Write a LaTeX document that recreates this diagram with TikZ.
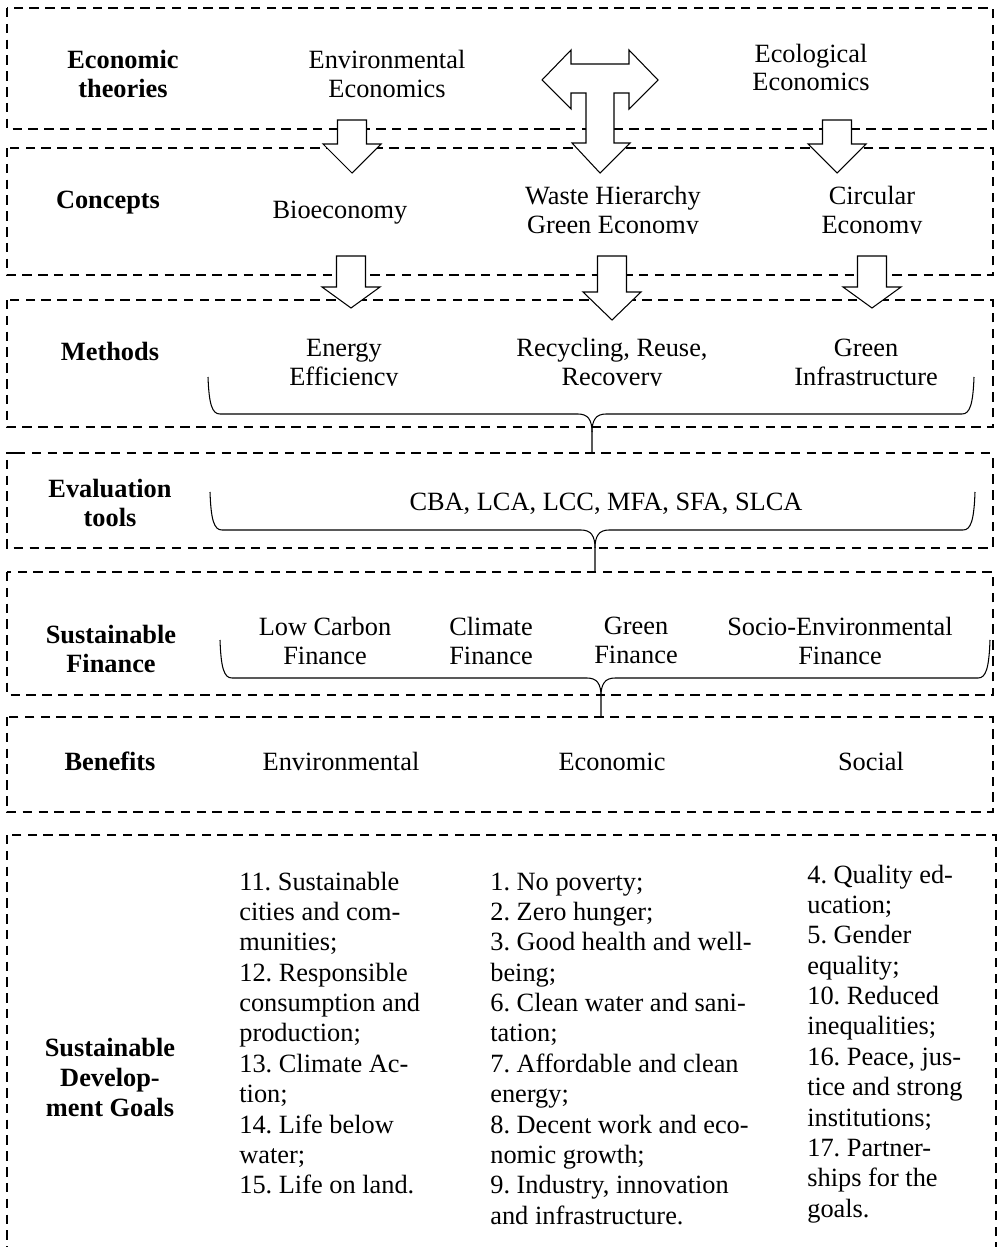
\documentclass[tikz,border=0pt]{standalone}
\usepackage{fontspec}
\setmainfont{Liberation Serif}
\frenchspacing
\newcommand\blockdown[4]{% centre x, stem top, head base, tip
  \draw[blockarrow] (#1-14.5,#2) -- (#1+14.5,#2) -- (#1+14.5,#3) -- (#1+29,#3)
    -- (#1,#4) -- (#1-29,#3) -- (#1-14.5,#3) -- cycle;}
\newcommand\bracket[6]{% left x, right x, middle x, end top, line y, tip y
  \draw[bracketline] (#1,#4) .. controls (#1+1,#5-10) and (#1+4,#5) .. (#1+12,#5)
    -- (#3-14,#5) .. controls (#3-4,#5) and (#3,#5+6) .. (#3,#5+18) -- (#3,#6);
  \draw[bracketline] (#2,#4) .. controls (#2-1,#5-10) and (#2-4,#5) .. (#2-12,#5)
    -- (#3+14,#5) .. controls (#3+4,#5) and (#3,#5+6) .. (#3,#5+18);}
\newcommand\twolines[2]{\begin{tabular}[b]{@{}c@{}}#1\\#2\end{tabular}}
\begin{document}
\begin{tikzpicture}[x=0.02cm,y=-0.02cm,
  panel/.style={draw=black, line width=1.1pt, dash pattern=on 5.4pt off 3.6pt},
  blockarrow/.style={draw=black, fill=white, line width=0.6pt, line join=miter},
  bracketline/.style={draw=black, line width=0.6pt},
  txt/.style={inner sep=0pt, anchor=base, font=\fontsize{15}{16.5}\selectfont},
  head/.style={txt, font=\fontsize{15}{16.5}\selectfont\bfseries},
  goals/.style={inner sep=0pt, anchor=base west, font=\fontsize{15}{17.3}\selectfont}]
\clip (0,0) rectangle (998,1247);
\fill[white] (0,0) rectangle (998,1247);

% dashed panels, one per level
\draw[panel] (7,8) rectangle (993,129);
\draw[panel] (7,148) rectangle (993,275);
\draw[panel] (7,300) rectangle (993,427);
\draw[panel] (16,453) -- (7,453) -- (7,548) -- (993,548) -- (993,453);
\draw[panel, line width=0.7pt] (16,453) -- (993,453);
\draw[panel] (7,572) rectangle (993,695);
\draw[panel] (7,717) rectangle (993,812);
\draw[panel] (7,835) rectangle (996,1300);

% two-way arrow between the theories, joined to a downward arrow
\draw[blockarrow] (542,80) -- (571,50) -- (571,64) -- (629,64) -- (629,50) -- (658,80)
  -- (629,109) -- (629,93) -- (614,93) -- (614,143) -- (630,143) -- (600,173)
  -- (572,143) -- (586,143) -- (586,93) -- (571,93) -- (571,109) -- cycle;

% downward block arrows
\blockdown{352}{120}{144}{173}
\blockdown{837}{120}{144}{173}
\blockdown{351}{256}{287}{308}
\blockdown{612}{256}{292}{320}
\blockdown{872}{256}{287}{308}

% gathering brackets
\bracket{208}{974}{592}{377}{414}{453}
\bracket{210}{975}{595}{492}{530}{572}
\bracket{220}{990}{601}{640}{678}{717}

% level headings
\node[head] (theories) at (123,97) {\twolines{Economic}{theories}};
\node[head] (concepts) at (108,208) {Concepts};
\node[head] (methods) at (110,360) {Methods};
\node[head] (tools) at (110,526) {\twolines{Evaluation}{tools}};
\node[head] (finance) at (111,672) {\twolines{Sustainable}{Finance}};
\node[head] (benefits) at (110,770) {Benefits};
\node[inner sep=0pt, anchor=base, font=\fontsize{15}{17.3}\selectfont\bfseries] (sdg) at (110,1056)
  {\begin{tabular}[t]{@{}c@{}}Sustainable\\Develop-\\ment Goals\end{tabular}};

% theories
\node[txt] (envecon) at (387,97) {\twolines{Environmental}{Economics}};
\node[txt] (ecolecon) at (811,91) {\twolines{Ecological}{Economics}};

% concepts
\node[txt] (bioecon) at (340,218) {Bioeconomy};
\begin{scope}
  \clip (470,150) rectangle (990,233.5);
  \node[txt] (wastegreen) at (613,233) {\twolines{Waste Hierarchy}{Green Economy}};
  \node[txt] (circular) at (872,233) {\twolines{Circular}{Economy}};
\end{scope}

% methods
\begin{scope}
  \clip (250,300) rectangle (740,385.5);
  \node[txt] (energy) at (344,385) {\twolines{Energy}{Efficiency}};
  \node[txt] (recycling) at (612,385) {\twolines{Recycling, Reuse,}{Recovery}};
\end{scope}
\node[txt] (greeninf) at (866,385) {\twolines{Green}{Infrastructure}};

% evaluation tools
\node[txt] (evaltools) at (606,510) {CBA, LCA, LCC, MFA, SFA, SLCA};

% finance
\node[txt] (lowcarbon) at (325,664) {\twolines{Low Carbon}{Finance}};
\node[txt] (climate) at (491,664) {\twolines{Climate}{Finance}};
\node[txt] (greenfin) at (636,663) {\twolines{Green}{Finance}};
\node[txt] (socioenv) at (840,664) {\twolines{Socio-Environmental}{Finance}};

% benefits
\node[txt] (benenv) at (341,770) {Environmental};
\node[txt] (beneco) at (612,770) {Economic};
\node[txt] (bensoc) at (871,770) {Social};

% goals grouped by benefit
\node[goals] (goalsenv) at (239,890) {\begin{tabular}[t]{@{}l@{}}
11. Sustainable\\cities and com-\\munities;\\12. Responsible\\consumption and\\production;\\
13. Climate Ac-\\tion;\\14. Life below\\water;\\15. Life on land.\end{tabular}};
\node[goals] (goalseco) at (490,890) {\begin{tabular}[t]{@{}l@{}}
1. No poverty;\\2. Zero hunger;\\3. Good health and well-\\being;\\6. Clean water and sani-\\tation;\\
7. Affordable and clean\\energy;\\8. Decent work and eco-\\nomic growth;\\9. Industry, innovation\\and infrastructure.\end{tabular}};
\node[goals] (goalssoc) at (807,883) {\begin{tabular}[t]{@{}l@{}}
4. Quality ed-\\ucation;\\5. Gender\\equality;\\10. Reduced\\inequalities;\\16. Peace, jus-\\tice and strong\\
institutions;\\17. Partner-\\ships for the\\goals.\end{tabular}};
\end{tikzpicture}
\end{document}
